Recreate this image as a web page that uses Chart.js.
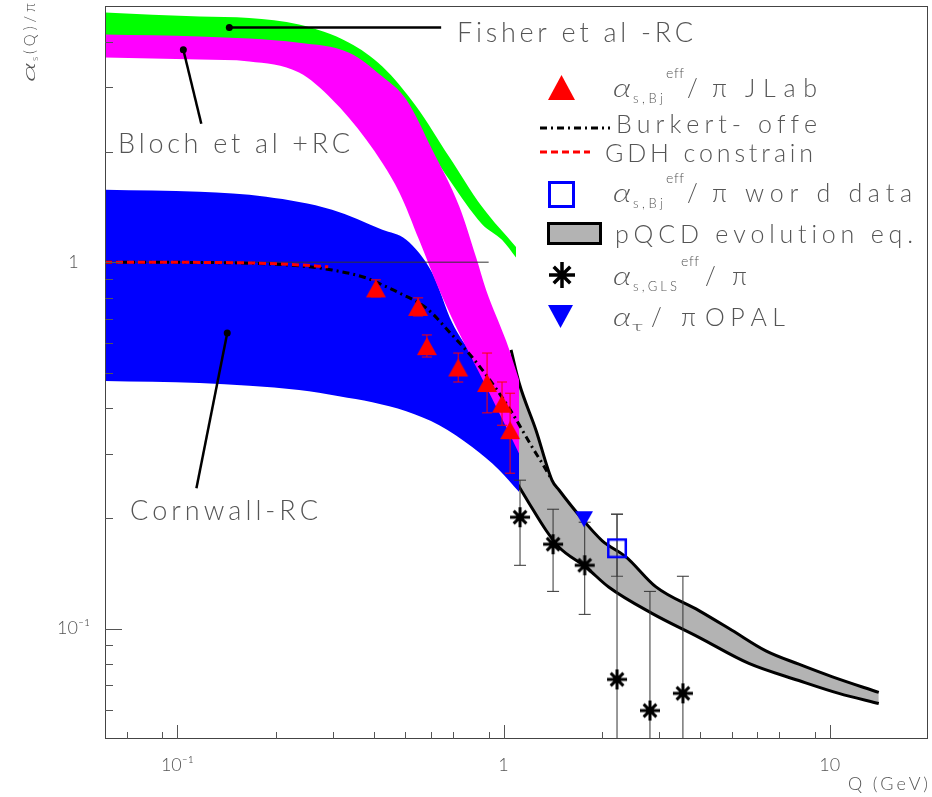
<!DOCTYPE html>
<html>
<head>
<meta charset="utf-8">
<script src="https://cdn.jsdelivr.net/npm/chart.js@4.4.1/dist/chart.umd.min.js"></script>
<style>
html,body{margin:0;padding:0;background:#fff;}
canvas{display:block;}
</style>
</head>
<body>
<canvas id="c" width="932" height="797"></canvas>
<script>
// ---------------- data (Q in GeV, alpha_s/pi) ----------------
const xTickValues = [0.1, 1, 10];
const xTickLabels = ['10\u207B\u00B9', '1', '10'];
const yTickValues = [0.1, 1];
const yTickLabels = ['10\u207B\u00B9', '1'];
const xMinorTicks = [0.07, 0.09, 0.2, 0.3, 0.4, 0.5, 0.6, 0.7, 0.9, 2, 3, 4, 5, 6, 7, 9];
const yMinorTicks = [0.06, 0.07, 0.08, 0.09, 0.2, 0.3, 0.4, 0.5, 0.6, 0.7, 0.8, 0.9, 2, 3, 4];

// Fisher et al -RC (green band)
const fisherUpper = [[0.06,4.80],[0.117,4.68],[0.166,4.64],[0.236,4.45],[0.336,3.97],[0.425,3.42],[0.54,2.66],[0.681,1.94],[0.859,1.416],[1.092,1.10]];
const fisherLower = [[0.06,4.12],[0.117,4.08],[0.236,3.90],[0.336,3.55],[0.425,3.00],[0.54,2.30],[0.681,1.68],[0.859,1.27],[0.99,1.15],[1.092,1.03]];
// Bloch et al +RC (magenta band)
const blochUpper = [[0.06,4.18],[0.117,4.13],[0.236,3.97],[0.336,3.73],[0.425,3.21],[0.503,2.78],[0.604,2.03],[0.731,1.42],[0.824,1.03],[0.884,0.84],[1.018,0.61],[1.116,0.477]];
const blochLower = [[0.06,3.62],[0.117,3.57],[0.166,3.53],[0.236,3.29],[0.298,2.78],[0.379,2.16],[0.479,1.55],[0.551,1.15],[0.635,0.84],[0.731,0.64],[0.841,0.50],[1.018,0.355],[1.116,0.30]];
// Cornwall-RC (blue band)
const cornwallUpper = [[0.06,1.576],[0.117,1.556],[0.187,1.508],[0.298,1.39],[0.425,1.225],[0.503,1.151],[0.604,0.935],[0.696,0.683],[0.784,0.576],[0.884,0.508],[1.018,0.434],[1.116,0.395]];
const cornwallLower = [[0.06,0.474],[0.117,0.468],[0.236,0.448],[0.313,0.431],[0.396,0.415],[0.503,0.392],[0.635,0.359],[0.801,0.313],[0.969,0.271],[1.116,0.236]];
// pQCD evolution eq. (gray band)
const pqcdUpper = [[1.054,0.576],[1.116,0.468],[1.257,0.348],[1.408,0.254],[1.479,0.239],[1.703,0.204],[2.003,0.174],[2.372,0.157],[2.932,0.130],[3.971,0.112],[5.011,0.099],[6.368,0.087],[8.035,0.080],[10.14,0.074],[14.13,0.067]];
const pqcdLower = [[1.054,0.2656],[1.197,0.220],[1.349,0.1856],[1.479,0.1668],[1.789,0.1471],[2.104,0.1297],[2.85,0.1101],[3.971,0.0947],[5.648,0.0804],[8.035,0.0722],[10.66,0.0666],[14.13,0.0625]];
// Burkert-Ioffe and GDH constraint curves
const burkertCurve = [[0.06,1.0],[0.147,0.996],[0.236,0.977],[0.298,0.952],[0.379,0.906],[0.4245,0.867],[0.479,0.824],[0.579,0.750],[0.6955,0.633],[0.80,0.551],[0.922,0.468],[1.062,0.388],[1.223,0.313],[1.312,0.283],[1.408,0.254]];
const gdhCurve = [[0.06,1.0],[0.15,0.997],[0.236,0.983],[0.29,0.971]];
const unitLine = [[0.06,1],[0.9,1]];

// alpha_s,Bj^eff/pi JLab
const jlabQ  = [0.406, 0.547, 0.582, 0.726, 0.890, 0.989, 1.047];
const jlabA  = [0.848, 0.755, 0.590, 0.516, 0.468, 0.411, 0.348];
const jlabLo = [0.804, 0.713, 0.551, 0.471, 0.388, 0.359, 0.2656];
const jlabHi = [0.895, 0.799, 0.633, 0.565, 0.565, 0.471, 0.439];
// alpha_s,GLS^eff/pi
const glsQ  = [1.123, 1.418, 1.773, 2.227, 2.810, 3.546];
const glsA  = [0.2014, 0.170, 0.1489, 0.0727, 0.0598, 0.0666];
const glsLo = [0.1489, 0.1264, 0.1094, 0.001, 0.001, 0.001];
const glsHi = [0.2542, 0.2118, 0.1952, 0.2053, 0.1264, 0.139];
// alpha_s,Bj^eff/pi world data
const worldQ  = [2.227];
const worldA  = [0.1657];
const worldLo = [0.139];
const worldHi = [0.2053];
// alpha_tau/pi OPAL
const opalQ = [1.764];
const opalA = [0.1989];

// ---------------- styling helpers ----------------
const FONT = "Lato, 'Open Sans', 'DejaVu Sans', sans-serif";
const TXT = '#555';
Chart.defaults.font.family = FONT;

function mk(w, h, draw) {
  const c = document.createElement('canvas');
  c.width = w; c.height = h;
  draw(c.getContext('2d'), w, h);
  return c;
}
function triUp(w, h, color) {
  return mk(w + 2, h + 2, g => {
    g.fillStyle = color; g.beginPath();
    g.moveTo((w + 2) / 2, 1); g.lineTo(w + 1, h + 1); g.lineTo(1, h + 1); g.closePath(); g.fill();
  });
}
function triDown(w, h, color) {
  return mk(w + 2, h + 2, g => {
    g.fillStyle = color; g.beginPath();
    g.moveTo(1, 1); g.lineTo(w + 1, 1); g.lineTo((w + 2) / 2, h + 1); g.closePath(); g.fill();
  });
}
function star(s, lw) {
  return mk(s + 2, s + 2, g => {
    g.strokeStyle = '#000'; g.lineWidth = lw; g.lineCap = 'butt';
    const c = (s + 2) / 2, r = s / 2;
    g.beginPath();
    [[0, 1], [90, 1], [45, 0.9], [135, 0.9]].forEach(([a, f]) => {
      const t = a * Math.PI / 180, dx = Math.cos(t) * r * f, dy = Math.sin(t) * r * f;
      g.moveTo(c - dx, c - dy); g.lineTo(c + dx, c + dy);
    });
    g.stroke();
  });
}
function openSquare(s, lw, color) {
  return mk(s + 2, s + 2, g => {
    g.strokeStyle = color; g.lineWidth = lw;
    g.strokeRect(1 + lw / 2, 1 + lw / 2, s - lw, s - lw);
  });
}

const mkJlab = triUp(20, 18, '#ff0000');
const mkOpal = triDown(18, 16, '#0000ff');
const mkGls = star(20, 3);
const mkWorld = openSquare(20, 2.5, '#0000ff');
const lgJlab = triUp(27, 25, '#ff0000');
const lgOpal = triDown(25, 23, '#0000ff');
const lgGls = star(26, 3.5);
const lgWorld = openSquare(27, 3, '#0000ff');

// ---------------- datasets ----------------
const pts = arr => arr.map(([x, y]) => ({x, y}));
const ptsXY = (q, a) => q.map((v, i) => ({x: v, y: a[i]}));
function errData(q, lo, hi) {
  const d = [];
  q.forEach((v, i) => { d.push({x: v, y: lo[i]}, {x: v, y: hi[i]}, {x: v, y: NaN}); });
  return d;
}
const datasets = [];
const add = ds => { datasets.push(Object.assign({pointRadius: 0, fill: false, tension: 0}, ds)); return datasets.length - 1; };
const SMOOTH = {cubicInterpolationMode: 'monotone'};

function band(upper, lower, color, order, lineW) {
  const li = add(Object.assign({label: 'lower', data: pts(lower), borderWidth: lineW, borderColor: '#000', order: order - 1}, SMOOTH));
  add(Object.assign({label: 'upper', data: pts(upper), borderWidth: lineW, borderColor: '#000', backgroundColor: color, fill: li, order: order}, SMOOTH));
}
band(fisherUpper, fisherLower, '#00ff00', 100, 0);
band(pqcdUpper, pqcdLower, '#b3b3b3', 90, 3);
band(cornwallUpper, cornwallLower, '#0000ff', 80, 0);
band(blochUpper, blochLower, '#ff00ff', 70, 0);

add({label: 'unit', data: pts(unitLine), borderColor: '#333', borderWidth: 1, order: 60});
add(Object.assign({label: 'Burkert-Ioffe', data: pts(burkertCurve), borderColor: '#000', borderWidth: 3, borderDash: [7, 4, 2, 4], order: 52}, SMOOTH));
add(Object.assign({label: 'GDH constraint', data: pts(gdhCurve), borderColor: '#ff0000', borderWidth: 3, borderDash: [7, 4], order: 51}, SMOOTH));

add({label: 'jlab err', data: errData(jlabQ, jlabLo, jlabHi), borderColor: '#ff0000', borderWidth: 1,
     pointStyle: 'line', pointRadius: 5, pointBorderColor: '#ff0000', pointBorderWidth: 1, order: 40});
add({label: 'gls err', data: errData(glsQ, glsLo, glsHi), borderColor: '#333', borderWidth: 1,
     pointStyle: 'line', pointRadius: 6, pointBorderColor: '#333', pointBorderWidth: 1, order: 41});
add({label: 'world err', data: errData(worldQ, worldLo, worldHi), borderColor: '#444', borderWidth: 1,
     pointStyle: 'line', pointRadius: 6, pointBorderColor: '#444', pointBorderWidth: 1, order: 42});

add({label: 'JLab', data: ptsXY(jlabQ, jlabA), showLine: false, pointStyle: mkJlab, pointRadius: 10, order: 30});
add({label: 'GLS', data: ptsXY(glsQ, glsA), showLine: false, pointStyle: mkGls, pointRadius: 10, order: 31});
add({label: 'world', data: ptsXY(worldQ, worldA), showLine: false, pointStyle: mkWorld, pointRadius: 10, order: 32});
add({label: 'OPAL', data: ptsXY(opalQ, opalA), showLine: false, pointStyle: mkOpal, pointRadius: 10, order: 33});

// ---------------- text helpers ----------------
function setFont(ctx, size, style) { ctx.font = (style || '') + ' 300 ' + size + 'px ' + FONT; }
function spaced(ctx, text, x, y, size, width, style) {
  setFont(ctx, size, style);
  const chars = [...text];
  const ws = chars.map(c => ctx.measureText(c).width);
  const nat = ws.reduce((s, v) => s + v, 0);
  if (chars.length === 1 && width) {
    ctx.save(); ctx.translate(x, y); ctx.scale(width / nat, 1); ctx.fillText(text, 0, 0); ctx.restore();
    return;
  }
  const sp = (chars.length > 1 && width) ? (width - nat) / (chars.length - 1) : 0;
  let cx = x;
  chars.forEach((c, i) => { ctx.fillText(c, cx, y); cx += ws[i] + sp; });
}
function rich(ctx, parts, baseline) {
  parts.forEach(p => spaced(ctx, p.t, p.x, baseline + (p.dy || 0), p.s, p.w, p.st));
}

// annotation layout (pixels) and pointer lines (data coords)
const labelsLayout = [
  {t: 'Fisher et al -RC', x: 457, y: 42, s: 27, w: 236},
  {t: 'Bloch et al +RC', x: 118, y: 153, s: 27, w: 232},
  {t: 'Cornwall-RC', x: 130, y: 520, s: 27, w: 188}
];
const pointers = [
  {dot: [0.1443, 4.37], end: [0.6436, 4.37]},
  {dot: [0.1043, 3.80], end: [0.1184, 2.387]},
  {dot: [0.1422, 0.641], end: [0.1144, 0.2417]}
];

const decor = {
  id: 'decor',
  afterDraw(chart) {
    const {ctx, chartArea: a, scales: {x, y}} = chart;
    ctx.save();
    // frame
    ctx.strokeStyle = '#444'; ctx.lineWidth = 1; ctx.setLineDash([]);
    ctx.strokeRect(a.left + 0.5, a.top + 0.5, a.right - a.left - 1, a.bottom - a.top - 1);
    // ticks (inside)
    ctx.strokeStyle = '#555';
    ctx.beginPath();
    const xt = (v, L) => { const p = Math.round(x.getPixelForValue(v)) + 0.5; ctx.moveTo(p, a.bottom); ctx.lineTo(p, a.bottom - L); };
    const yt = (v, L) => { const p = Math.round(y.getPixelForValue(v)) + 0.5; ctx.moveTo(a.left, p); ctx.lineTo(a.left + L, p); };
    xTickValues.forEach(v => xt(v, 14));
    xMinorTicks.forEach(v => xt(v, 7));
    yTickValues.forEach(v => yt(v, 17));
    yMinorTicks.forEach(v => yt(v, 8));
    ctx.stroke();

    // pointer lines
    ctx.strokeStyle = '#000'; ctx.fillStyle = '#000'; ctx.lineWidth = 2.5;
    pointers.forEach(p => {
      const x0 = x.getPixelForValue(p.dot[0]), y0 = y.getPixelForValue(p.dot[1]);
      const x1 = x.getPixelForValue(p.end[0]), y1 = y.getPixelForValue(p.end[1]);
      ctx.beginPath(); ctx.moveTo(x0, y0); ctx.lineTo(x1, y1); ctx.stroke();
      ctx.beginPath(); ctx.arc(x0, y0, 3.5, 0, Math.PI * 2); ctx.fill();
    });

    // annotation labels
    ctx.fillStyle = TXT; ctx.textBaseline = 'alphabetic'; ctx.textAlign = 'left';
    labelsLayout.forEach(l => spaced(ctx, l.t, l.x, l.y, l.s, l.w));

    // axis titles
    ctx.save();
    ctx.translate(35, 82); ctx.rotate(-Math.PI / 2);
    rich(ctx, [
      {t: '\u03B1', x: 0, s: 18, w: 20, st: 'italic'},
      {t: 's', x: 21, s: 10, dy: 3},
      {t: '(Q)/\u03C0', x: 28, s: 15, w: 51}
    ], 0);
    ctx.restore();
    spaced(ctx, 'Q (GeV)', 848, 790, 18, 80);

    // legend symbols
    const img = (c, cx, cy) => ctx.drawImage(c, Math.round(cx - c.width / 2), Math.round(cy - c.height / 2));
    img(lgJlab, 561.5, 87.5);
    ctx.lineWidth = 3; ctx.strokeStyle = '#000'; ctx.setLineDash([7, 4, 2, 4]);
    ctx.beginPath(); ctx.moveTo(540, 128); ctx.lineTo(610, 128); ctx.stroke();
    ctx.strokeStyle = '#ff0000'; ctx.setLineDash([7, 4]);
    ctx.beginPath(); ctx.moveTo(540, 152); ctx.lineTo(590, 152); ctx.stroke();
    ctx.setLineDash([]);
    img(lgWorld, 561, 194);
    ctx.fillStyle = '#b3b3b3'; ctx.fillRect(548.5, 223.5, 52, 20);
    ctx.strokeStyle = '#000'; ctx.lineWidth = 3; ctx.strokeRect(548.5, 223.5, 52, 20);
    img(lgGls, 561.5, 275);
    img(lgOpal, 560.5, 316.5);

    // legend text
    ctx.fillStyle = TXT;
    rich(ctx, [
      {t: '\u03B1', x: 613, s: 25, w: 18, st: 'italic'},
      {t: 's,Bj', x: 633, s: 13, w: 30, dy: 6},
      {t: 'eff', x: 666, s: 14, w: 18, dy: -19},
      {t: '/\u03C0', x: 687, s: 25, w: 40},
      {t: 'JLab', x: 745, s: 25, w: 72}
    ], 97);
    spaced(ctx, 'Burkert- offe', 616, 133, 25, 201);
    spaced(ctx, 'GDH constrain', 605, 162, 25, 208);
    rich(ctx, [
      {t: '\u03B1', x: 613, s: 25, w: 18, st: 'italic'},
      {t: 's,Bj', x: 633, s: 13, w: 30, dy: 6},
      {t: 'eff', x: 666, s: 14, w: 18, dy: -19},
      {t: '/\u03C0', x: 687, s: 25, w: 40},
      {t: 'wor d data', x: 745, s: 25, w: 167}
    ], 202);
    spaced(ctx, 'pQCD evolution eq.', 615, 243, 25, 298);
    rich(ctx, [
      {t: '\u03B1', x: 613, s: 25, w: 18, st: 'italic'},
      {t: 's,GLS', x: 633, s: 13, w: 44, dy: 6},
      {t: 'eff', x: 681, s: 14, w: 18, dy: -19},
      {t: '/\u03C0', x: 705, s: 25, w: 42}
    ], 285);
    rich(ctx, [
      {t: '\u03B1', x: 613, s: 25, w: 18, st: 'italic'},
      {t: '\u03C4', x: 632, s: 14, w: 11, dy: 5},
      {t: '/\u03C0', x: 651, s: 25, w: 45},
      {t: 'OPAL', x: 705, s: 25, w: 80}
    ], 326);
    ctx.restore();
  }
};

new Chart(document.getElementById('c'), {
  type: 'line',
  data: {datasets},
  options: {
    responsive: false,
    devicePixelRatio: 1,
    animation: false,
    events: [],
    layout: {autoPadding: false, padding: {left: 0, right: 4, top: 6, bottom: 0}},
    plugins: {legend: {display: false}, tooltip: {enabled: false}},
    scales: {
      x: {
        type: 'logarithmic', position: 'bottom', min: 0.06, max: 20,
        grid: {display: false, drawTicks: false}, border: {display: false},
        afterBuildTicks: s => { s.ticks = xTickValues.map(v => ({value: v})); },
        afterFit: s => { s.height = 58; s.paddingLeft = 0; s.paddingRight = 0; s.paddingTop = 0; s.paddingBottom = 0; },
        ticks: {
          autoSkip: false, maxRotation: 0, padding: 15, color: TXT,
          font: {family: FONT, size: 18, weight: '300'},
          callback: v => { const i = xTickValues.indexOf(v); return i >= 0 ? xTickLabels[i] : ''; }
        }
      },
      y: {
        type: 'logarithmic', position: 'left', min: 0.05, max: 5,
        grid: {display: false, drawTicks: false}, border: {display: false},
        afterBuildTicks: s => { s.ticks = yTickValues.map(v => ({value: v})); },
        afterFit: s => { s.width = 105; s.paddingLeft = 0; s.paddingRight = 0; s.paddingTop = 0; s.paddingBottom = 0; },
        ticks: {
          autoSkip: false, padding: 15, crossAlign: 'center', color: TXT,
          font: {family: FONT, size: 18, weight: '300'},
          callback: v => { const i = yTickValues.indexOf(v); return i >= 0 ? yTickLabels[i] : ''; }
        }
      }
    }
  },
  plugins: [decor]
});
</script>
</body>
</html>
